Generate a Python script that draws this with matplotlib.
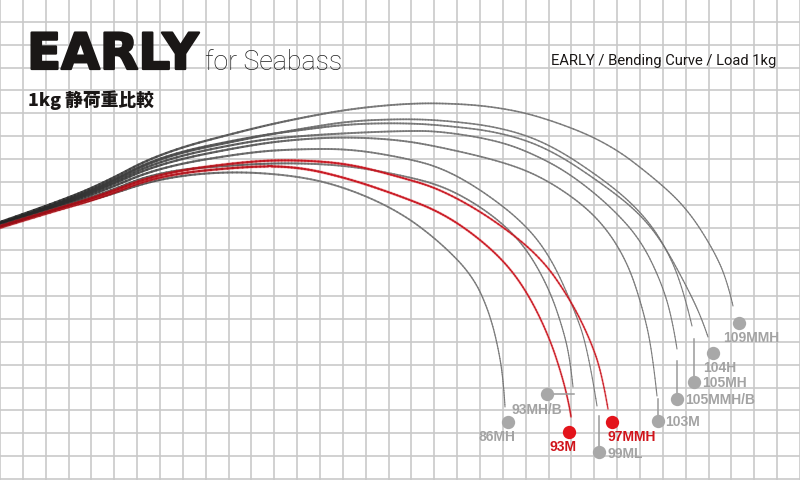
import matplotlib.pyplot as plt
import matplotlib.patheffects as pe
from matplotlib.path import Path
from matplotlib.collections import LineCollection
import numpy as np

# Bending curves (pixel coords, y grows downward)
x_86mh = [-5, 50, 100, 160, 230, 300, 350, 400, 440, 473, 490, 500, 504, 505]
y_86mh = [229, 212, 199, 179, 172, 177, 190, 213, 243, 277, 315, 357, 390, 408]

x_93m = [-5, 50, 100, 160, 250, 300, 350, 400, 440, 475, 507, 530, 550, 563, 570, 571]
y_93m = [230, 213, 199, 176, 167, 168, 180, 197, 213, 236, 265, 298, 340, 380, 410, 418]

x_93mhb = [-5, 50, 100, 160, 250, 300, 350, 400, 440, 475, 507, 530, 550, 563, 570, 573]
y_93mhb = [228, 211, 196, 172, 165, 164, 167, 176, 186, 204, 228, 255, 292, 330, 360, 388]

x_97mmh = [-5, 50, 100, 160, 250, 300, 350, 400, 440, 490, 540, 570, 590, 602, 608]
y_97mmh = [229, 212, 197, 174, 162, 161, 165, 178, 190, 218, 257, 300, 340, 375, 410]

x_99ml = [-5, 50, 100, 160, 250, 300, 350, 400, 440, 480, 523, 550, 573, 588, 597]
y_99ml = [228, 210, 193, 168, 153, 150, 150, 158, 168, 190, 223, 257, 307, 350, 407]

x_103m = [-5, 50, 100, 160, 250, 300, 350, 400, 440, 500, 540, 580, 607, 628, 642, 652, 657]
y_103m = [227, 209, 191, 164, 146, 140, 138, 141, 148, 162, 177, 203, 230, 265, 307, 350, 397]

x_105mmhb = [-5, 50, 100, 160, 250, 300, 350, 400, 440, 500, 540, 573, 610, 640, 660, 672, 677]
y_105mmhb = [227, 209, 190, 161, 142, 137, 134, 132, 132, 142, 158, 177, 207, 240, 280, 318, 350]

x_105mh = [-5, 50, 100, 160, 250, 300, 350, 400, 440, 500, 550, 607, 640, 663, 682, 692]
y_105mh = [227, 208, 189, 158, 139, 130, 122, 120, 121, 128, 145, 183, 212, 243, 285, 327]

x_104h = [-5, 50, 100, 160, 250, 300, 350, 400, 440, 500, 550, 607, 640, 663, 688, 702, 708]
y_104h = [226, 208, 188, 157, 138, 131, 125, 124, 126, 133, 150, 188, 215, 244, 290, 320, 338]

x_109mmh = [-5, 50, 100, 160, 250, 300, 350, 400, 440, 490, 540, 607, 658, 688, 713, 727, 733]
y_109mmh = [225, 206, 186, 154, 130, 119, 110, 105, 104, 107, 117, 143, 182, 211, 250, 281, 307]

# Tip markers and labels
names = ['86MH', '93MH/B', '93M', '99ML', '97MMH', '103M',
         '105MMH/B', '105MH', '104H', '109MMH']
dot_x = [508, 547, 569, 599, 612, 658, 677, 694, 713, 739]
dot_y = [423, 395, 433, 453, 423, 422, 400, 383, 354, 324]
label_x = [497, 537, 563, 607, 607, 665, 685, 702, 720, 751]
label_y = [437, 410, 447, 454, 437, 422, 400, 383, 368, 338]
label_ha = ['center', 'center', 'center', 'left', 'left', 'left',
            'left', 'left', 'center', 'center']
highlight = ['93M', '97MMH']

# Leader lines from dot to rod tip
leaders = {
    '93MH/B': ([553, 574], [395, 395]),
    '99ML': ([599, 599], [417, 453]),
    '103M': ([658, 658], [400, 422]),
    '105MMH/B': ([677, 677], [362, 400]),
    '105MH': ([694, 694], [340, 383]),
}

# butt colour -> tip colour
GRAY = ((0.08, 0.08, 0.08), (0.45, 0.45, 0.45))
RED = ((0.55, 0.04, 0.07), (0.78, 0.08, 0.12))


def smooth_path(xs, ys):
    """Quadratic-bezier path through the midpoints of the read points."""
    pts = list(zip(xs, ys))
    verts = [pts[0]]
    codes = [Path.MOVETO]
    for i in range(1, len(pts) - 1):
        mid = ((pts[i][0] + pts[i + 1][0]) / 2, (pts[i][1] + pts[i + 1][1]) / 2)
        if i == len(pts) - 2:
            mid = pts[-1]
        verts += [pts[i], mid]
        codes += [Path.CURVE3, Path.CURVE3]
    return Path(verts, codes)


def draw_rod(ax, xs, ys, colors, halo=None):
    path = smooth_path(xs, ys)
    pts = np.vstack([seg(np.linspace(0, 1, 16)) for seg, _ in path.iter_bezier()])
    segs = np.stack([pts[:-1], pts[1:]], axis=1)
    # rod tapers and fades from butt to tip
    frac = np.linspace(0, 1, len(segs))
    widths = 2.4 - 1.6 * np.sqrt(frac)
    c0, c1 = np.array(colors[0]), np.array(colors[1])
    t = np.clip(frac * 2.5, 0, 1)[:, None]
    cols = c0 * (1 - t) + c1 * t
    if halo:
        ax.add_collection(LineCollection(segs, colors=halo, linewidths=widths + 0.9,
                                         alpha=0.25, capstyle='round', zorder=3))
    ax.add_collection(LineCollection(segs, colors=cols, linewidths=widths,
                                     alpha=0.9, capstyle='round', zorder=3))


def main():
    fig = plt.figure(figsize=(8, 4.81), dpi=100)
    ax = fig.add_axes([0, 0, 1, 1])
    ax.set_xlim(0, 800)
    ax.set_ylim(481, 0)

    # Graph-paper grid
    cell = 800 / 35
    ax.set_xticks(np.arange(0, 801, cell))
    ax.set_yticks(480 - np.arange(0, 22) * cell)
    ax.grid(True, color='#c9c9c9', lw=1.2)
    ax.tick_params(length=0, labelbottom=False, labelleft=False)
    for s in ax.spines.values():
        s.set_visible(False)
    ax.set_axisbelow(True)

    grays = [(x_86mh, y_86mh), (x_93mhb, y_93mhb), (x_99ml, y_99ml),
             (x_103m, y_103m), (x_105mmhb, y_105mmhb), (x_105mh, y_105mh),
             (x_104h, y_104h), (x_109mmh, y_109mmh)]
    for xs, ys in grays:
        draw_rod(ax, xs, ys, GRAY)
    for xs, ys in [(x_93m, y_93m), (x_97mmh, y_97mmh)]:
        draw_rod(ax, xs, ys, RED, halo='#f05a5a')

    for name, (lx, ly) in leaders.items():
        ax.plot(lx, ly, color='#9a9a9a', lw=1.1, zorder=3)

    for i, name in enumerate(names):
        red = name in highlight
        ax.scatter(dot_x[i], dot_y[i], s=92, color='#e3141b' if red else '#a8a8a8',
                   zorder=4, linewidths=0)
        ax.text(label_x[i], label_y[i], name, ha=label_ha[i], va='center',
                fontsize=10, fontweight='bold', family='Liberation Sans',
                color='#d0141b' if red else '#a3a3a3', zorder=5)

    # Titles
    ax.text(27, 70, 'EARLY', fontsize=36, fontweight='bold', family='DejaVu Sans',
            color='#1a1716', va='baseline', ha='left',
            path_effects=[pe.withStroke(linewidth=1.6, foreground='#1a1716')])
    ax.text(205, 70, 'for Seabass', fontsize=19.3, fontweight='light',
            family=['Roboto', 'DejaVu Sans'], color='#1e1e1e', va='baseline', ha='left')
    ax.text(28, 106, '1kg 静荷重比較', fontsize=12.8, fontweight='heavy',
            family=['Noto Sans CJK JP', 'DejaVu Sans'], color='#1a1716',
            va='baseline', ha='left')
    ax.text(776, 65, 'EARLY / Bending Curve / Load 1kg', fontsize=10.6,
            family=['Roboto', 'DejaVu Sans'], color='#1a1716',
            va='baseline', ha='right')

    fig.savefig('out.png', dpi=100)


if __name__ == "__main__":
    main()
